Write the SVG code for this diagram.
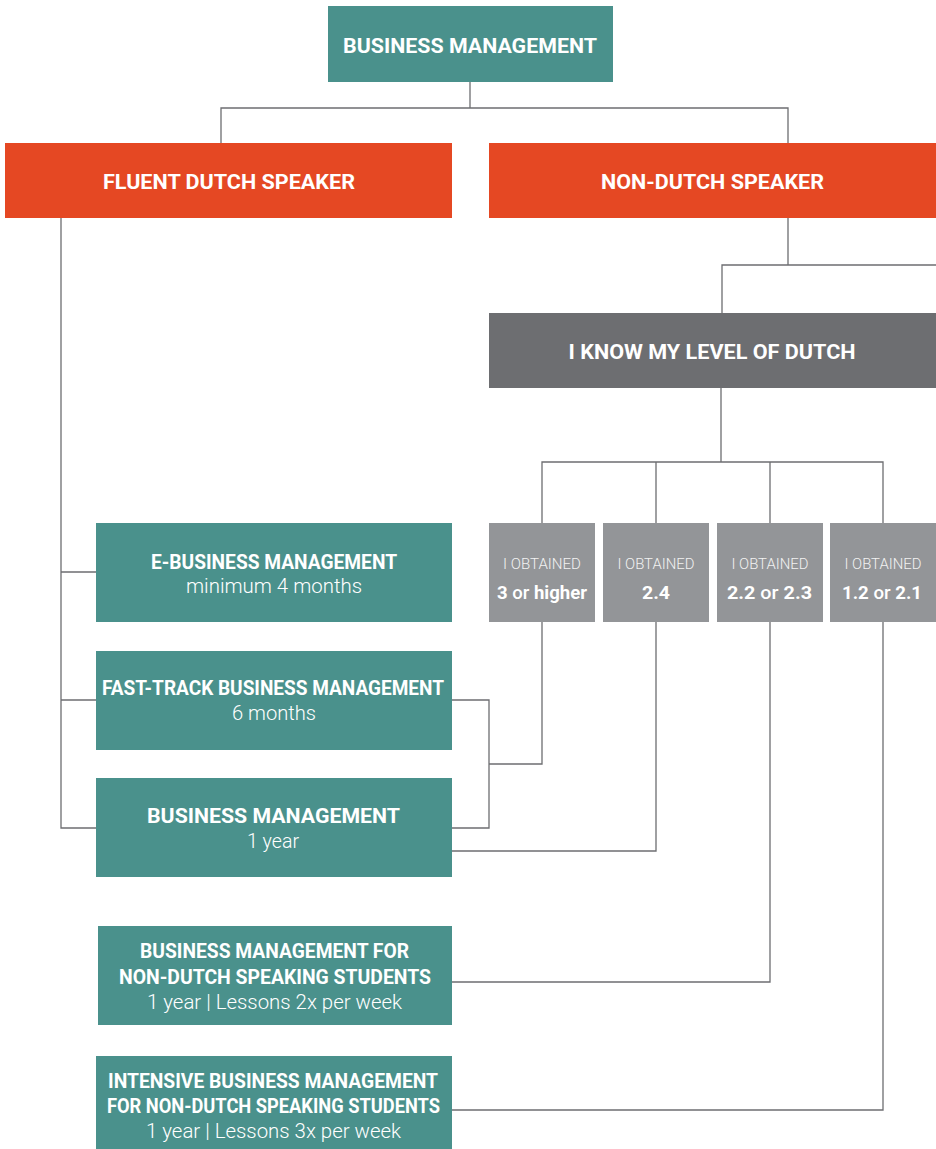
<svg xmlns="http://www.w3.org/2000/svg" width="936" height="1149" viewBox="0 0 936 1149">
<style>
.teal{fill:#4a918c}
.orange{fill:#e54823}
.dark{fill:#6d6e71}
.grey{fill:#939598}
.t{font-family:Roboto,"Liberation Sans",Arial,sans-serif;font-weight:700;fill:#fff;text-anchor:middle;font-size:21px}
.s{font-family:Roboto,"Liberation Sans",Arial,sans-serif;font-weight:300;fill:#fff;text-anchor:middle;font-size:20px}
.o{font-family:Roboto,"Liberation Sans",Arial,sans-serif;font-weight:300;fill:#f2f2f2;text-anchor:middle;font-size:14px}
.b{font-family:Roboto,"Liberation Sans",Arial,sans-serif;font-weight:700;fill:#fff;text-anchor:middle;font-size:18px}
.n{font-weight:500}
.c{fill:none;stroke:#6d6e71;stroke-width:1.3}
</style>
<g id="connectors">
<path class="c" d="M470 82V108M221 143V108H788V143"/>
<path class="c" d="M788 218V265M936 265H722V313"/>
<path class="c" d="M721 388V462M542 523V462H883V523M656 462V523M770 462V523"/>
<path class="c" d="M61 218V828H96M61 572H96M61 700H96"/>
<path class="c" d="M452 700H489V828H452M489 764H542V622"/>
<path class="c" d="M452 851H656V622"/>
<path class="c" d="M452 982H770V622"/>
<path class="c" d="M452 1110H883V622"/>
</g>
<g id="business-management">
<rect class="teal" x="328" y="6" width="285" height="76"/>
<text class="t" x="470" y="53" textLength="254" lengthAdjust="spacingAndGlyphs">BUSINESS MANAGEMENT</text>
</g>
<g id="fluent-dutch-speaker">
<rect class="orange" x="5" y="143" width="447" height="75"/>
<text class="t" x="229" y="189" textLength="252" lengthAdjust="spacingAndGlyphs">FLUENT DUTCH SPEAKER</text>
</g>
<g id="non-dutch-speaker">
<rect class="orange" x="489" y="143" width="447" height="75"/>
<text class="t" x="712.5" y="189" textLength="223" lengthAdjust="spacingAndGlyphs">NON-DUTCH SPEAKER</text>
</g>
<g id="know-level">
<rect class="dark" x="489" y="313" width="447" height="75"/>
<text class="t" x="712" y="359" textLength="287" lengthAdjust="spacingAndGlyphs">I KNOW MY LEVEL OF DUTCH</text>
</g>
<g id="level-3">
<rect class="grey" x="489" y="523" width="106" height="99"/>
<text class="o" x="542" y="569" textLength="78" lengthAdjust="spacingAndGlyphs">I OBTAINED</text>
<text class="b" x="542" y="599" textLength="90" lengthAdjust="spacingAndGlyphs">3 <tspan class="n">or</tspan> higher</text>
</g>
<g id="level-24">
<rect class="grey" x="603" y="523" width="106" height="99"/>
<text class="o" x="656" y="569" textLength="77" lengthAdjust="spacingAndGlyphs">I OBTAINED</text>
<text class="b" x="656" y="599" textLength="28" lengthAdjust="spacingAndGlyphs">2.4</text>
</g>
<g id="level-22">
<rect class="grey" x="717" y="523" width="106" height="99"/>
<text class="o" x="770" y="569" textLength="77" lengthAdjust="spacingAndGlyphs">I OBTAINED</text>
<text class="b" x="769.5" y="599" textLength="85" lengthAdjust="spacingAndGlyphs">2.2 <tspan class="n">or</tspan> 2.3</text>
</g>
<g id="level-12">
<rect class="grey" x="830" y="523" width="106" height="99"/>
<text class="o" x="883" y="569" textLength="77" lengthAdjust="spacingAndGlyphs">I OBTAINED</text>
<text class="b" x="882" y="599" textLength="80" lengthAdjust="spacingAndGlyphs">1.2 <tspan class="n">or</tspan> 2.1</text>
</g>
<g id="e-business">
<rect class="teal" x="96" y="523" width="356" height="99"/>
<text class="t" x="274" y="569" textLength="246" lengthAdjust="spacingAndGlyphs">E-BUSINESS MANAGEMENT</text>
<text class="s" x="274" y="593" textLength="176" lengthAdjust="spacingAndGlyphs">minimum 4 months</text>
</g>
<g id="fast-track">
<rect class="teal" x="96" y="651" width="356" height="99"/>
<text class="t" x="273" y="695" textLength="342" lengthAdjust="spacingAndGlyphs">FAST-TRACK BUSINESS MANAGEMENT</text>
<text class="s" x="274" y="720" textLength="84" lengthAdjust="spacingAndGlyphs">6 months</text>
</g>
<g id="business-1year">
<rect class="teal" x="96" y="778" width="356" height="99"/>
<text class="t" x="273.5" y="823" textLength="253" lengthAdjust="spacingAndGlyphs">BUSINESS MANAGEMENT</text>
<text class="s" x="273" y="848" textLength="52" lengthAdjust="spacingAndGlyphs">1 year</text>
</g>
<g id="bm-non-dutch">
<rect class="teal" x="98" y="926" width="354" height="99"/>
<text class="t" x="274.5" y="958" textLength="269" lengthAdjust="spacingAndGlyphs">BUSINESS MANAGEMENT FOR</text>
<text class="t" x="275" y="984" textLength="312" lengthAdjust="spacingAndGlyphs">NON-DUTCH SPEAKING STUDENTS</text>
<text class="s" x="274.5" y="1009" textLength="255" lengthAdjust="spacingAndGlyphs">1 year | Lessons 2x per week</text>
</g>
<g id="intensive-bm">
<rect class="teal" x="96" y="1056" width="356" height="93"/>
<text class="t" x="273" y="1088" textLength="330" lengthAdjust="spacingAndGlyphs">INTENSIVE BUSINESS MANAGEMENT</text>
<text class="t" x="273.5" y="1113" textLength="333" lengthAdjust="spacingAndGlyphs">FOR NON-DUTCH SPEAKING STUDENTS</text>
<text class="s" x="273.5" y="1138" textLength="255" lengthAdjust="spacingAndGlyphs">1 year | Lessons 3x per week</text>
</g>
</svg>
